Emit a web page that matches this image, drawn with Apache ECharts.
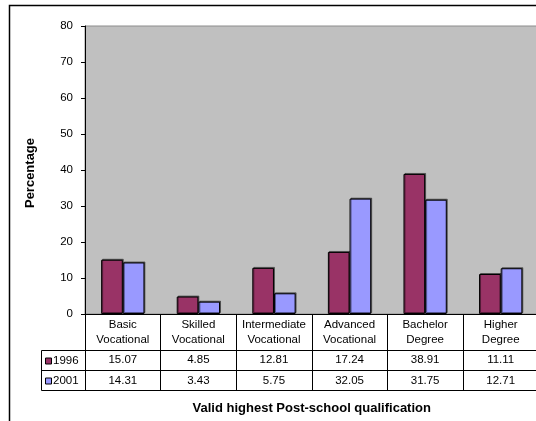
<!DOCTYPE html>
<html>
<head>
<meta charset="utf-8">
<script src="https://cdn.jsdelivr.net/npm/echarts@6/dist/echarts.min.js"></script>
<style>
html,body{margin:0;padding:0;background:#fff;overflow:hidden;}
#c{width:536px;height:421px;}
</style>
</head>
<body>
<div id="c"></div>
<script>
const categories = [
  ['Basic', 'Vocational'],
  ['Skilled', 'Vocational'],
  ['Intermediate', 'Vocational'],
  ['Advanced', 'Vocational'],
  ['Bachelor', 'Degree'],
  ['Higher', 'Degree']
];
const seriesNames = ['1996', '2001'];
const values1996 = [15.07, 4.85, 12.81, 17.24, 38.91, 11.11];
const values2001 = [14.31, 3.43, 5.75, 32.05, 31.75, 12.71];
const yTicks = { min: 0, max: 80, interval: 10 };
const xTitle = 'Valid highest Post-school qualification';
const yTitle = 'Percentage';

const colors = ['#993366', '#9999FF'];
const FONT = 'Arial, "Liberation Sans", sans-serif';

const chart = echarts.init(document.getElementById('c'), null, { renderer: 'canvas' });

const catKeys = categories.map(c => c.join(' '));

// table geometry (layout only)
const tableLeft = 41.5, tableRight = 540, rowTop = 350.5, rowMid = 370.5, rowBot = 390.5;
const rowCenters = [361, 381];

const legendGraphics = [];
seriesNames.forEach((name, i) => {
  legendGraphics.push({
    type: 'rect', shape: { x: 45.5, y: rowCenters[i] - 3, width: 6, height: 6 },
    style: { fill: colors[i], stroke: '#000', lineWidth: 1 }, z: 100
  });
  legendGraphics.push({
    type: 'text', x: 53, y: rowCenters[i],
    style: { text: name, fontSize: 11.5, fontFamily: FONT, fill: '#000', verticalAlign: 'middle', align: 'left' }, z: 100
  });
});

chart.setOption({
  animation: false,
  backgroundColor: '#fff',
  textStyle: { fontFamily: FONT },
  grid: {
    left: 85, top: 26, width: 453.5, height: 288,
    outerBoundsMode: 'none',
    show: true, backgroundColor: '#C0C0C0', borderColor: '#8c8c8c', borderWidth: 1,
    containLabel: false
  },
  xAxis: {
    type: 'category',
    data: catKeys,
    name: xTitle,
    nameLocation: 'middle',
    nameGap: 88,
    nameTextStyle: { fontSize: 13, fontWeight: 'bold', color: '#000', fontFamily: FONT },
    axisLine: { show: true, lineStyle: { color: '#000', width: 1 } },
    axisTick: { show: true, length: 77, inside: false, lineStyle: { color: '#000', width: 1 } },
    axisLabel: {
      interval: 0,
      margin: 3.5,
      color: '#000',
      fontSize: 11.5,
      fontFamily: FONT,
      formatter: function (val, idx) {
        const c = categories[idx];
        return '{c|' + c[0] + '}\n{c|' + c[1] + '}\n{s| }\n{v|' + values1996[idx].toFixed(2) + '}\n{v|' + values2001[idx].toFixed(2) + '}';
      },
      rich: {
        c: { fontSize: 11.5, lineHeight: 15, color: '#000', fontFamily: FONT },
        s: { fontSize: 2, lineHeight: 2 },
        v: { fontSize: 11.5, lineHeight: 21, color: '#000', fontFamily: FONT }
      }
    },
    splitLine: { show: false }
  },
  yAxis: {
    type: 'value',
    min: yTicks.min, max: yTicks.max, interval: yTicks.interval,
    name: yTitle,
    nameLocation: 'middle',
    nameGap: 48,
    nameRotate: 90,
    nameTextStyle: { fontSize: 13, fontWeight: 'bold', color: '#000', fontFamily: FONT, padding: [0, 6, 0, 0] },
    axisLine: { show: true, lineStyle: { color: '#000', width: 1 } },
    axisTick: { show: true, length: 4, lineStyle: { color: '#000' } },
    axisLabel: { margin: 12, color: '#000', fontSize: 11.5, fontFamily: FONT },
    splitLine: { show: false }
  },
  series: [
    {
      name: seriesNames[0], type: 'bar', data: values1996,
      barGap: '0%', barCategoryGap: '42.7%',
      itemStyle: { color: colors[0], borderColor: '#000', borderWidth: 1,
        shadowColor: 'rgba(0,0,0,0.45)', shadowOffsetX: 1, shadowOffsetY: -1, shadowBlur: 0 }
    },
    {
      name: seriesNames[1], type: 'bar', data: values2001,
      barGap: '0%', barCategoryGap: '42.7%',
      itemStyle: { color: colors[1], borderColor: '#000', borderWidth: 1,
        shadowColor: 'rgba(0,0,0,0.45)', shadowOffsetX: 1, shadowOffsetY: -1, shadowBlur: 0 }
    }
  ],
  graphic: [
    { type: 'rect', shape: { x: 9.5, y: 5.5, width: 600, height: 500 }, style: { fill: 'none', stroke: '#000', lineWidth: 1.5 }, silent: true, z: 100 },
    { type: 'line', shape: { x1: tableLeft, y1: rowTop, x2: tableRight, y2: rowTop }, style: { stroke: '#000', lineWidth: 1 }, z: 100 },
    { type: 'line', shape: { x1: tableLeft, y1: rowMid, x2: tableRight, y2: rowMid }, style: { stroke: '#000', lineWidth: 1 }, z: 100 },
    { type: 'line', shape: { x1: tableLeft, y1: rowBot, x2: tableRight, y2: rowBot }, style: { stroke: '#000', lineWidth: 1 }, z: 100 },
    { type: 'line', shape: { x1: tableLeft, y1: rowTop, x2: tableLeft, y2: rowBot }, style: { stroke: '#000', lineWidth: 1 }, z: 100 }
  ].concat(legendGraphics)
});
</script>
</body>
</html>
